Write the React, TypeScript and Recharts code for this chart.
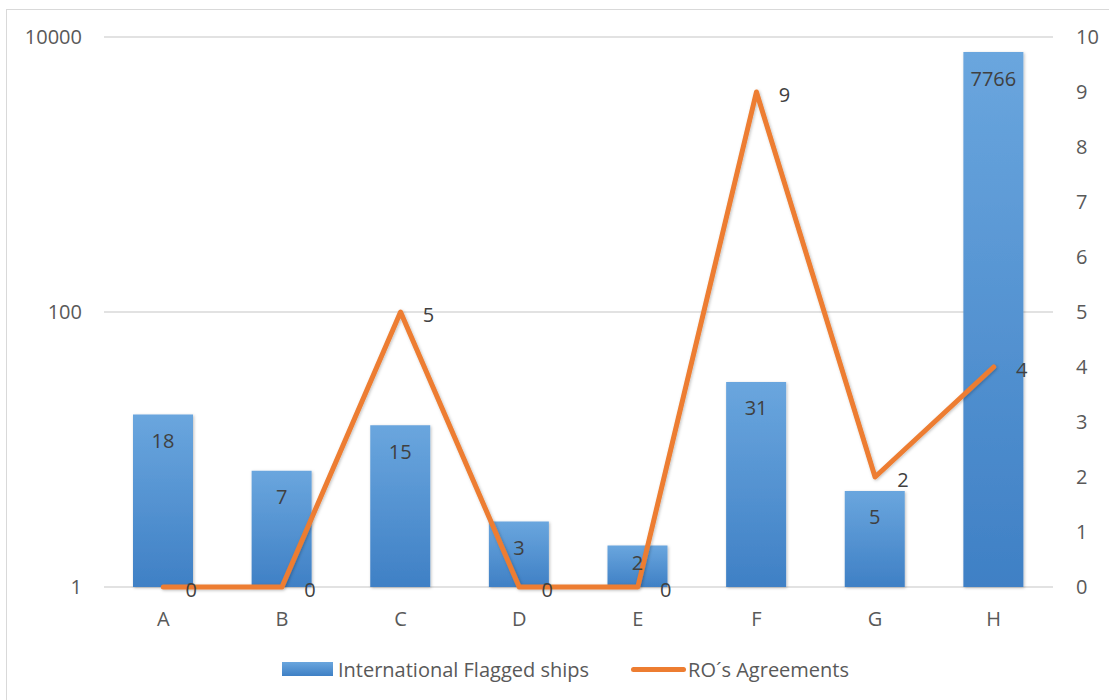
import {
  ComposedChart, Bar, Line, XAxis, YAxis, CartesianGrid, Legend, LabelList,
} from 'recharts';

const categories = ['A', 'B', 'C', 'D', 'E', 'F', 'G', 'H'];
const flaggedShips = [18, 7, 15, 3, 2, 31, 5, 7766];
const roAgreements = [0, 0, 5, 0, 0, 9, 2, 4];
const leftTicks = [1, 100, 10000];
const rightTicks = [0, 1, 2, 3, 4, 5, 6, 7, 8, 9, 10];

const data = categories.map((name, i) => ({
  name,
  ships: flaggedShips[i],
  agreements: roAgreements[i],
}));

const TEXT = '#595959';
const LABEL = '#404040';
const GRID = '#d9d9d9';
const ORANGE = '#ed7d31';
const FONT = 20;

const BarLabel = (props: any) => {
  const { x, y, width, height, value } = props;
  const dy = Math.min(26, height * 0.4);
  return (
    <text x={x + width / 2} y={y + dy} textAnchor="middle" dominantBaseline="central"
      fill={LABEL} fontSize={FONT}>
      {value}
    </text>
  );
};

const LineLabel = (props: any) => {
  const { x, y, value } = props;
  return (
    <text x={x + 28} y={y + 2} textAnchor="middle" dominantBaseline="central"
      fill={LABEL} fontSize={FONT}>
      {value}
    </text>
  );
};

const ChartLegend = () => (
  <div style={{ display: 'flex', justifyContent: 'center', alignItems: 'center', height: 40, paddingLeft: 14, color: TEXT, fontSize: FONT }}>
    <span style={{ display: 'inline-block', width: 51, height: 14, background: 'linear-gradient(#6aa6de, #3f80c5)', marginRight: 5 }} />
    <span>International Flagged ships</span>
    <span style={{ display: 'inline-block', width: 55, height: 5, borderRadius: 3, background: ORANGE, marginLeft: 42, marginRight: 2 }} />
    <span>RO´s Agreements</span>
  </div>
);

export default function App() {
  return (
    <div style={{
      position: 'absolute', left: 6, top: 9, width: 1110, height: 700,
      border: `1px solid ${GRID}`, boxSizing: 'border-box', fontFamily: '"Open Sans", sans-serif', background: '#fff',
    }}>
      <ComposedChart width={1103} height={691} data={data}
        margin={{ top: 27, right: 0, bottom: 12, left: 0 }}>
        <defs>
          <linearGradient id="barFill" x1="0" y1="0" x2="0" y2="1">
            <stop offset="0%" stopColor="#6aa6de" />
            <stop offset="100%" stopColor="#3f80c5" />
          </linearGradient>
          <filter id="shadow" x="-20%" y="-20%" width="140%" height="140%">
            <feDropShadow dx="1" dy="1" stdDeviation="1.5" floodColor="#000" floodOpacity="0.25" />
          </filter>
        </defs>
        <CartesianGrid yAxisId="left" vertical={false} stroke={GRID} strokeWidth={1.5} />
        <XAxis dataKey="name" height={62} tickLine={false} tickSize={0} tickMargin={25}
          axisLine={false} tick={{ fill: TEXT, fontSize: FONT }} />
        <YAxis yAxisId="left" scale="log" domain={[1, 10000]} ticks={leftTicks} width={97}
          axisLine={false} tickLine={false} tickSize={0} tickMargin={22}
          tick={{ fill: TEXT, fontSize: FONT }} />
        <YAxis yAxisId="right" orientation="right" domain={[0, 10]} ticks={rightTicks} width={57}
          axisLine={false} tickLine={false} tickSize={0} tickMargin={23}
          tick={{ fill: TEXT, fontSize: FONT, textAnchor: 'start' }} />
        <Legend verticalAlign="bottom" content={<ChartLegend />} />
        <Bar yAxisId="left" dataKey="ships" name="International Flagged ships" barSize={60}
          fill="url(#barFill)" filter="url(#shadow)" isAnimationActive={false}>
          <LabelList dataKey="ships" content={<BarLabel />} />
        </Bar>
        <Line yAxisId="right" dataKey="agreements" name="RO´s Agreements" type="linear"
          stroke={ORANGE} strokeWidth={5} strokeLinejoin="round" strokeLinecap="round"
          dot={false} activeDot={false} filter="url(#shadow)" isAnimationActive={false}>
          <LabelList dataKey="agreements" content={<LineLabel />} />
        </Line>
      </ComposedChart>
    </div>
  );
}
